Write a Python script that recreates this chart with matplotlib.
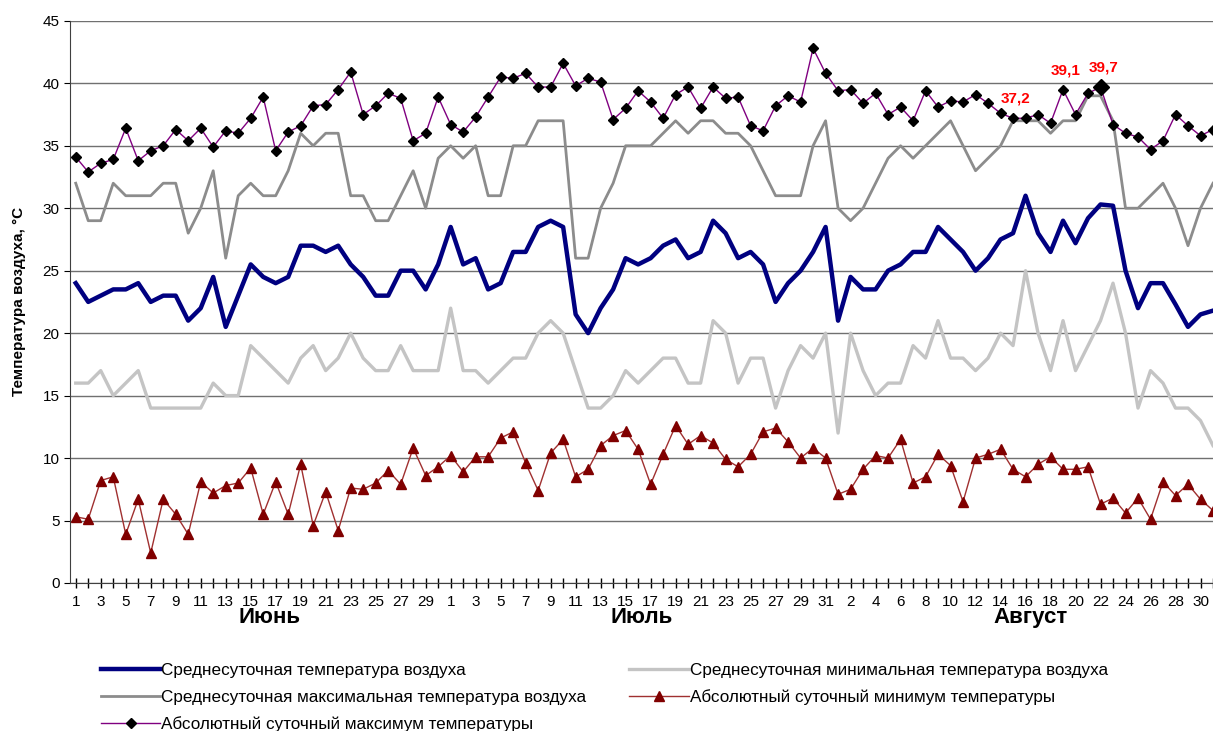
import matplotlib.pyplot as plt

plt.rcParams['font.family'] = ['Liberation Sans', 'DejaVu Sans']

# days: June 1-30, July 1-31, August 1-31
june_days = list(range(1, 31))
july_days = list(range(1, 32))
aug_days = list(range(1, 32))
day_labels = [str(d) for d in june_days + july_days + aug_days]
months = ["Июнь", "Июль", "Август"]

# Среднесуточная температура воздуха
t_mean = [24.0, 22.5, 23.0, 23.5, 23.5, 24.0, 22.5, 23.0, 23.0, 21.0,
          22.0, 24.5, 20.5, 23.0, 25.5, 24.5, 24.0, 24.5, 27.0, 27.0,
          26.5, 27.0, 25.5, 24.5, 23.0, 23.0, 25.0, 25.0, 23.5, 25.5,
          28.5, 25.5, 26.0, 23.5, 24.0, 26.5, 26.5, 28.5, 29.0, 28.5,
          21.5, 20.0, 22.0, 23.5, 26.0, 25.5, 26.0, 27.0, 27.5, 26.0,
          26.5, 29.0, 28.0, 26.0, 26.5, 25.5, 22.5, 24.0, 25.0, 26.5,
          28.5,
          21.0, 24.5, 23.5, 23.5, 25.0, 25.5, 26.5, 26.5, 28.5, 27.5,
          26.5, 25.0, 26.0, 27.5, 28.0, 31.0, 28.0, 26.5, 29.0, 27.2,
          29.2, 30.3, 30.2, 25.0, 22.0, 24.0, 24.0, 22.3, 20.5, 21.5,
          21.8]

# Среднесуточная максимальная температура воздуха
t_max = [32, 29, 29, 32, 31, 31, 31, 32, 32, 28,
         30, 33, 26, 31, 32, 31, 31, 33, 36, 35,
         36, 36, 31, 31, 29, 29, 31, 33, 30, 34,
         35, 34, 35, 31, 31, 35, 35, 37, 37, 37,
         26, 26, 30, 32, 35, 35, 35, 36, 37, 36,
         37, 37, 36, 36, 35, 33, 31, 31, 31, 35,
         37,
         30, 29, 30, 32, 34, 35, 34, 35, 36, 37,
         35, 33, 34, 35, 37, 37, 37, 36, 37, 37,
         39, 39, 37, 30, 30, 31, 32, 30, 27, 30,
         32]

# Среднесуточная минимальная температура воздуха
t_min = [16, 16, 17, 15, 16, 17, 14, 14, 14, 14,
         14, 16, 15, 15, 19, 18, 17, 16, 18, 19,
         17, 18, 20, 18, 17, 17, 19, 17, 17, 17,
         22, 17, 17, 16, 17, 18, 18, 20, 21, 20,
         17, 14, 14, 15, 17, 16, 17, 18, 18, 16,
         16, 21, 20, 16, 18, 18, 14, 17, 19, 18,
         20,
         12, 20, 17, 15, 16, 16, 19, 18, 21, 18,
         18, 17, 18, 20, 19, 25, 20, 17, 21, 17,
         19, 21, 24, 20, 14, 17, 16, 14, 14, 13,
         11]

# Абсолютный суточный минимум температуры
t_abs_min = [5.3, 5.1, 8.2, 8.5, 3.9, 6.7, 2.4, 6.7, 5.5, 3.9,
             8.1, 7.2, 7.8, 8.0, 9.2, 5.5, 8.1, 5.5, 9.5, 4.6,
             7.3, 4.2, 7.6, 7.5, 8.0, 9.0, 7.9, 10.8, 8.6, 9.3,
             10.2, 8.9, 10.1, 10.1, 11.6, 12.1, 9.6, 7.4, 10.4, 11.5,
             8.5, 9.1, 11.0, 11.8, 12.2, 10.7, 7.9, 10.3, 12.6, 11.1,
             11.8, 11.2, 9.9, 9.3, 10.3, 12.1, 12.4, 11.3, 10.0, 10.8,
             10.0,
             7.1, 7.5, 9.1, 10.2, 10.0, 11.5, 8.0, 8.5, 10.3, 9.4,
             6.5, 10.0, 10.3, 10.7, 9.1, 8.5, 9.5, 10.1, 9.1, 9.1,
             9.3, 6.3, 6.8, 5.6, 6.8, 5.1, 8.1, 7.0, 7.9, 6.7,
             5.8]

# Абсолютный суточный максимум температуры
t_abs_max = [34.1, 32.9, 33.6, 33.9, 36.4, 33.8, 34.6, 35.0, 36.3, 35.4,
             36.4, 34.9, 36.2, 36.0, 37.2, 38.9, 34.6, 36.1, 36.6, 38.2,
             38.3, 39.5, 40.9, 37.5, 38.2, 39.2, 38.8, 35.4, 36.0, 38.9,
             36.7, 36.1, 37.3, 38.9, 40.5, 40.4, 40.8, 39.7, 39.7, 41.6,
             39.8, 40.4, 40.1, 37.1, 38.0, 39.4, 38.5, 37.2, 39.1, 39.7,
             38.0, 39.7, 38.8, 38.9, 36.6, 36.2, 38.2, 39.0, 38.5, 42.8,
             40.8,
             39.4, 39.5, 38.4, 39.2, 37.5, 38.1, 37.0, 39.4, 38.1, 38.6,
             38.5, 39.1, 38.4, 37.6, 37.2, 37.2, 37.5, 36.8, 39.5, 37.5,
             39.2, 39.7, 36.7, 36.0, 35.7, 34.7, 35.4, 37.5, 36.6, 35.8,
             36.3]

# highlighted values (August 15, 19, 22)
highlight_idx = [30 + 31 + 14, 30 + 31 + 18, 30 + 31 + 21]
highlight_text = ["37,2", "39,1", "39,7"]

x = list(range(len(day_labels)))

fig = plt.figure(figsize=(12.13, 7.31), dpi=100)
ax = fig.add_axes([0.0577, 0.2025, 0.9423, 0.769])

ax.plot(x, t_mean, color="#000080", lw=3.2, label="Среднесуточная температура воздуха", zorder=4)
ax.plot(x, t_max, color="#8c8c8c", lw=2.0, label="Среднесуточная максимальная температура воздуха", zorder=3)
ax.plot(x, t_abs_max, color="#800080", lw=1.0, marker="D", markersize=5.5,
        markerfacecolor="black", markeredgecolor="black",
        label="Абсолютный суточный максимум температуры", zorder=5)
ax.plot(x, t_min, color="#c4c4c4", lw=2.4, label="Среднесуточная минимальная температура воздуха", zorder=3)
ax.plot(x, t_abs_min, color="#a03030", lw=1.0, marker="^", markersize=7,
        markerfacecolor="#800000", markeredgecolor="#800000",
        label="Абсолютный суточный минимум температуры", zorder=5)

# bigger marker on the record value
ax.plot([highlight_idx[2]], [t_abs_max[highlight_idx[2]]], marker="D", markersize=8,
        color="black", zorder=6)

for i, txt in zip(highlight_idx, highlight_text):
    ax.annotate(txt, (i, t_abs_max[i]), xytext=(2, 9), textcoords="offset points",
                ha="center", va="bottom", color="red", fontsize=11, fontweight="bold")

ax.set_ylim(0, 45)
ax.set_yticks(range(0, 46, 5))
ax.set_xlim(-0.46, 90.77)
ax.set_xticks(x[::2])
ax.set_xticklabels(day_labels[::2], fontsize=11)
ax.set_xticks(x, minor=True)
ax.tick_params(axis="x", which="both", direction="inout", length=7, width=1, pad=5)
ax.tick_params(axis="y", direction="out", length=4, labelsize=11)

ax.grid(axis="y", color="#707070", lw=1)
ax.set_axisbelow(True)
for side in ["top", "right"]:
    ax.spines[side].set_visible(False)
ax.spines["left"].set_color("#404040")
ax.spines["bottom"].set_color("#404040")

ax.set_ylabel("Температура воздуха, °C", fontsize=11, fontweight="bold", labelpad=12)

month_pos = [15.5, 45.3, 76.4]
for pos, name in zip(month_pos, months):
    ax.text(pos, -0.062, name, transform=ax.get_xaxis_transform(), ha="center",
            va="center", fontsize=16, fontweight="bold")

handles, labels = ax.get_legend_handles_labels()
fig.legend(handles, labels, loc="upper left", bbox_to_anchor=(0.083, 0.093), ncol=2,
           frameon=False, fontsize=12.3, handlelength=3.5, handletextpad=0.05,
           columnspacing=2.5, labelspacing=0.68, borderaxespad=0, borderpad=0)

fig.savefig("out.png", dpi=100)
